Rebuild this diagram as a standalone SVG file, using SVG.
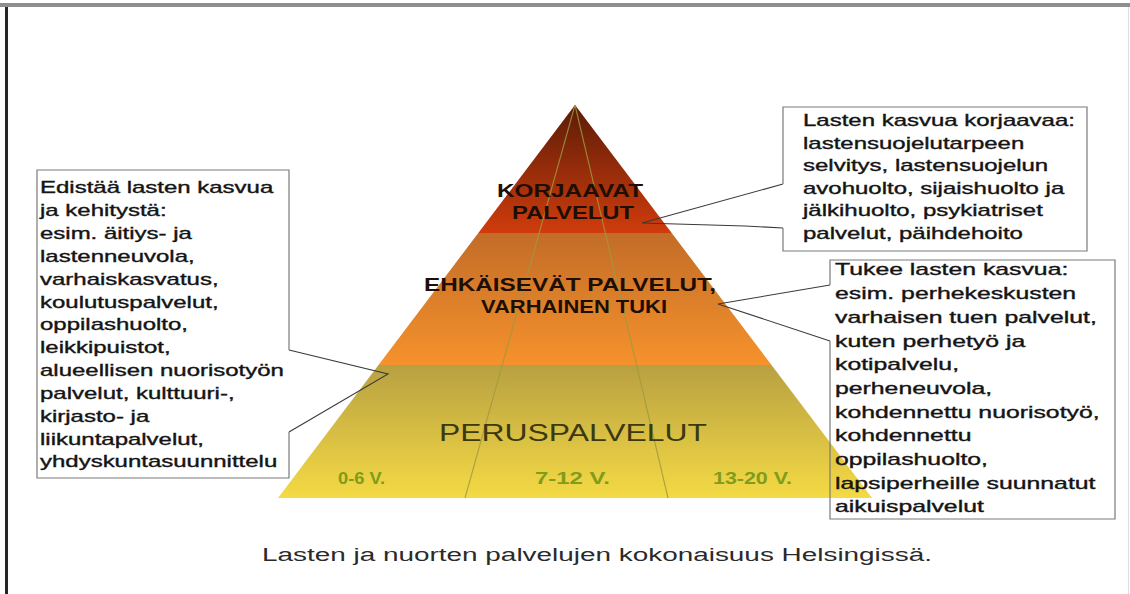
<svg xmlns="http://www.w3.org/2000/svg" width="1130" height="594" viewBox="0 0 1130 594">
<defs>
<linearGradient id="gTop" gradientUnits="userSpaceOnUse" x1="0" y1="105" x2="0" y2="233">
<stop offset="0" stop-color="#5a1c08"/><stop offset="1" stop-color="#d03c0c"/>
</linearGradient>
<linearGradient id="gMid" gradientUnits="userSpaceOnUse" x1="0" y1="233" x2="0" y2="365">
<stop offset="0" stop-color="#c26c28"/><stop offset="1" stop-color="#f6922c"/>
</linearGradient>
<linearGradient id="gBot" gradientUnits="userSpaceOnUse" x1="0" y1="365" x2="0" y2="498">
<stop offset="0" stop-color="#b8a042"/><stop offset="1" stop-color="#f4da44"/>
</linearGradient>
<style>
.box{fill:none;stroke:#7a7a7a;stroke-width:1.2}
.con{fill:none;stroke:#3a3a3a;stroke-width:1.1}
.bt{font-family:"Liberation Sans",Arial,sans-serif;font-size:16px;fill:#141414;stroke:#141414;stroke-width:0.35}
.pl{font-family:"Liberation Sans",Arial,sans-serif;font-weight:bold;font-size:18px;fill:#1e0e04}
.age{font-family:"Liberation Sans",Arial,sans-serif;font-weight:bold;font-size:17px;fill:#7f9c1a}
.div{stroke:#a09a40;stroke-width:1.1;opacity:0.85}
</style>
</defs>
<rect width="1130" height="594" fill="#ffffff"/>
<g id="frame">
<rect x="0" y="3" width="1130" height="4" fill="#8e8e8e"/>
<rect x="5" y="7" width="3" height="587" fill="#262626"/>
<line x1="1128.5" y1="7" x2="1128.5" y2="594" stroke="#e0e0e0" stroke-width="1"/>
</g>
<g id="pyramid">
<polygon points="575,105 671.7,233 478.3,233" fill="url(#gTop)"/>
<polygon points="478.3,233 671.7,233 771.5,365 378.5,365" fill="url(#gMid)"/>
<polygon points="378.5,365 771.5,365 872,498 278,498" fill="url(#gBot)"/>
<line class="div" x1="575" y1="105" x2="465" y2="498"/>
<line class="div" x1="575" y1="105" x2="668" y2="498"/>
</g>
<g id="pyramid-labels">
<text class="pl" x="497" y="197" textLength="146" lengthAdjust="spacingAndGlyphs">KORJAAVAT</text>
<text class="pl" x="512" y="219" textLength="122" lengthAdjust="spacingAndGlyphs">PALVELUT</text>
<text class="pl" x="424" y="291" textLength="292" lengthAdjust="spacingAndGlyphs">EHKÄISEVÄT PALVELUT,</text>
<text class="pl" x="481" y="313" textLength="186" lengthAdjust="spacingAndGlyphs">VARHAINEN TUKI</text>
<text x="439" y="441" font-family="Liberation Sans, Arial, sans-serif" font-size="23" fill="#3c3810" textLength="268" lengthAdjust="spacingAndGlyphs">PERUSPALVELUT</text>
<text class="age" x="338" y="484" textLength="47" lengthAdjust="spacingAndGlyphs">0-6 V.</text>
<text class="age" x="535" y="484" textLength="75" lengthAdjust="spacingAndGlyphs">7-12 V.</text>
<text class="age" x="713" y="484" textLength="79" lengthAdjust="spacingAndGlyphs">13-20 V.</text>
</g>
<g id="connectors">
<path class="con" d="M289,350 L388,374 L289,432"/>
<path class="con" d="M783,184 L642,223 L745,226 L783,228"/>
<path class="con" d="M830,285 L718,304 L830,341"/>
</g>
<g id="box-left">
<path class="box" d="M289,350 V170 H37 V478 H289 V432"/>
<g class="bt" transform="translate(40,0) scale(1.5,1)">
<text x="0" y="193.5">Edistää lasten kasvua</text>
<text x="0" y="216.3">ja kehitystä:</text>
<text x="0" y="239.2">esim. äitiys- ja</text>
<text x="0" y="262">lastenneuvola,</text>
<text x="0" y="284.8">varhaiskasvatus,</text>
<text x="0" y="307.7">koulutuspalvelut,</text>
<text x="0" y="330.5">oppilashuolto,</text>
<text x="0" y="353.3">leikkipuistot,</text>
<text x="0" y="376.2">alueellisen nuorisotyön</text>
<text x="0" y="399">palvelut, kulttuuri-,</text>
<text x="0" y="421.8">kirjasto- ja</text>
<text x="0" y="444.7">liikuntapalvelut,</text>
<text x="0" y="467.5">yhdyskuntasuunnittelu</text>
</g>
</g>
<g id="box-right-top">
<path class="box" d="M783,184 V107 H1087 V251 H783 V228"/>
<g class="bt" transform="translate(803,0) scale(1.5,1)">
<text x="0" y="126">Lasten kasvua korjaavaa:</text>
<text x="0" y="148.6">lastensuojelutarpeen</text>
<text x="0" y="171.2">selvitys, lastensuojelun</text>
<text x="0" y="193.8">avohuolto, sijaishuolto ja</text>
<text x="0" y="216.4">jälkihuolto, psykiatriset</text>
<text x="0" y="239">palvelut, päihdehoito</text>
</g>
</g>
<g id="box-right-bottom">
<path class="box" d="M830,285 V260 H1115 V519 H830 V341"/>
<g class="bt" transform="translate(835,0) scale(1.55,1)">
<text x="0" y="275.5">Tukee lasten kasvua:</text>
<text x="0" y="299.2">esim. perhekeskusten</text>
<text x="0" y="322.9">varhaisen tuen palvelut,</text>
<text x="0" y="346.6">kuten perhetyö ja</text>
<text x="0" y="370.3">kotipalvelu,</text>
<text x="0" y="394">perheneuvola,</text>
<text x="0" y="417.7">kohdennettu nuorisotyö,</text>
<text x="0" y="441.4">kohdennettu</text>
<text x="0" y="465.1">oppilashuolto,</text>
<text x="0" y="488.8">lapsiperheille suunnatut</text>
<text x="0" y="512.5">aikuispalvelut</text>
</g>
</g>
<g id="caption">
<text x="262" y="561" font-family="Liberation Sans, Arial, sans-serif" font-size="18" fill="#2a2a2a" textLength="670" lengthAdjust="spacingAndGlyphs">Lasten ja nuorten palvelujen kokonaisuus Helsingissä.</text>
</g>
</svg>
